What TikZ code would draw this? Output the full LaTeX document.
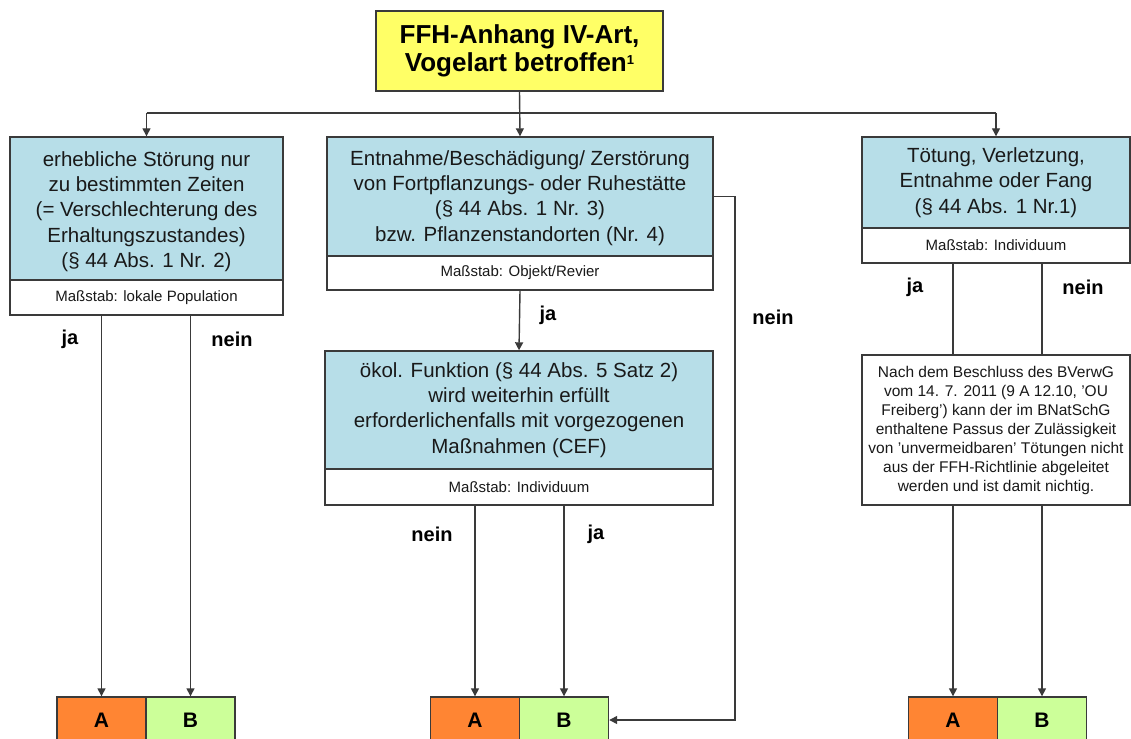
\documentclass[tikz,border=0pt]{standalone}
\usepackage{fontspec}
\setmainfont{Liberation Sans}
\usetikzlibrary{arrows.meta}
\definecolor{cblue}{HTML}{B7DEE8}
\definecolor{cyel}{HTML}{FFFF66}
\definecolor{corange}{HTML}{FF8533}
\definecolor{cgreen}{HTML}{CCFF99}
\definecolor{cline}{HTML}{3A3A3A}
\tikzset{
  boxbase/.style={draw=cline, line width=1.4pt, inner sep=0pt},
  bluebox/.style={boxbase, fill=cblue},
  whitebox/.style={boxbase, fill=white},
  txt/.style={align=center, inner sep=0pt, text=black!90, font=\fontsize{20.5}{25.3}\selectfont},
  small/.style={align=center, inner sep=0pt, text=black!90, font=\fontsize{15}{17}\selectfont},
  lbl/.style={inner sep=0pt, font=\fontsize{20}{22}\selectfont\bfseries},
  abox/.style={boxbase, fill=corange, minimum width=89, minimum height=46, font=\fontsize{21}{22}\selectfont\bfseries},
  bbox/.style={boxbase, fill=cgreen, minimum width=89, minimum height=46, font=\fontsize{21}{22}\selectfont\bfseries},
  conn/.style={draw=cline, line width=1.4pt},
  arr/.style={conn, -{Triangle[length=8pt,width=8pt]}}
}
\begin{document}
\begin{tikzpicture}[x=1pt,y=-1pt]
\clip (0,0) rectangle (1131,738);
\fill[white] (0,0) rectangle (1131,738);

% top
\node[boxbase, fill=cyel, minimum width=287, minimum height=80] (top) at (519.5,51) {};
\node[align=center, inner sep=0pt, font=\fontsize{26}{28}\selectfont\bfseries] (toptxt) at (top.center) {FFH-Anhang IV-Art,\\Vogelart betroffen{\fontsize{13}{13}\selectfont\raisebox{7pt}{1}}};

% left
\node[bluebox, minimum width=273, minimum height=143] (lb) at (146.5,208.5) {};
\node[txt] (lbt) at ([yshift=-3pt]lb.center) {erhebliche Störung nur\\zu bestimmten Zeiten\\(= Verschlechterung des\\Erhaltungszustandes)\\(§ 44 Abs. 1 Nr. 2)};
\node[whitebox, minimum width=273, minimum height=35] (lw) at (146.5,297.5) {};
\node[small] (lwt) at (lw.center) {Maßstab: lokale Population};

% middle
\node[bluebox, minimum width=386, minimum height=119] (mb) at (520,196.5) {};
\node[txt] (mbt) at ([yshift=-1.5pt]mb.center) {Entnahme/Beschädigung/ Zerstörung\\von Fortpflanzungs- oder Ruhestätte\\(§ 44 Abs. 1 Nr. 3)\\bzw. Pflanzenstandorten (Nr. 4)};
\node[whitebox, minimum width=386, minimum height=34] (mw) at (520,273) {};
\node[small] (mwt) at (mw.center) {Maßstab: Objekt/Revier};

% right
\node[bluebox, minimum width=268, minimum height=91] (rb) at (996,182.5) {};
\node[txt] (rbt) at (rb.center) {Tötung, Verletzung,\\Entnahme oder Fang\\(§ 44 Abs. 1 Nr.1)};
\node[whitebox, minimum width=268, minimum height=35] (rw) at (996,245.5) {};
\node[small] (rwt) at (rw.center) {Maßstab: Individuum};

% oekol
\node[bluebox, minimum width=388, minimum height=118] (ob) at (519,410) {};
\node[txt] (obt) at (ob.center) {ökol. Funktion (§ 44 Abs. 5 Satz 2)\\wird weiterhin erfüllt\\erforderlichenfalls mit vorgezogenen\\Maßnahmen (CEF)};
\node[whitebox, minimum width=388, minimum height=36] (ow) at (519,487) {};
\node[small] (owt) at (ow.center) {Maßstab: Individuum};

% Nach
\node[whitebox, minimum width=268, minimum height=150] (nb) at (996,430) {};
\node[align=center, inner sep=0pt, text=black!90, font=\fontsize{15.5}{19}\selectfont] (nbt) at (nb.center) {Nach dem Beschluss des BVerwG\\vom 14. 7. 2011 (9 A 12.10, 'OU\\Freiberg') kann der im BNatSchG\\enthaltene Passus der Zulässigkeit\\von 'unvermeidbaren' Tötungen nicht\\aus der FFH-Richtlinie abgeleitet\\werden und ist damit nichtig.};

% A/B boxes
\node[abox] (lA) at (101.5,720) {A};
\node[bbox] (lB) at (190.5,720) {B};
\node[abox] (mA) at (475,720) {A};
\node[bbox] (mB) at (564,720) {B};
\node[abox] (rA) at (953,720) {A};
\node[bbox] (rB) at (1042,720) {B};

% connectors top
\coordinate (bar) at (0,113);
\draw[conn] (lb.north |- bar) -- (rb.north |- bar);
\draw[arr] (lb.north |- bar) -- (lb.north);
\draw[arr] (rb.north |- bar) -- (rb.north);
\draw[arr] (top.south) -- (mb.north);

% left
\draw[arr] (lw.south -| lA) -- (lA.north);
\draw[arr] (lw.south -| lB) -- (lB.north);
\node[lbl] (lja) at (70,339) {ja};
\node[lbl] (lnein) at (232,339) {nein};

% middle
\draw[arr] (mw.south) -- (ob.north);
\node[lbl] (mja) at (548,315) {ja};
\coordinate (nk) at (735,196.5);
\draw[arr] (mb.east) -- (nk) |- (mB.east);
\node[lbl] (mnein) at (773,317) {nein};
\draw[arr] (ow.south -| mA) -- (mA.north);
\draw[arr] (ow.south -| mB) -- (mB.north);
\node[lbl] (onein) at (432,534) {nein};
\node[lbl] (oja) at (596,534) {ja};

% right
\draw[conn] (rw.south -| rA) -- (nb.north -| rA);
\draw[conn] (rw.south -| rB) -- (nb.north -| rB);
\draw[arr] (nb.south -| rA) -- (rA.north);
\draw[arr] (nb.south -| rB) -- (rB.north);
\node[lbl] (rja) at (915,287) {ja};
\node[lbl] (rnein) at (1083,287) {nein};
\end{tikzpicture}
\end{document}
